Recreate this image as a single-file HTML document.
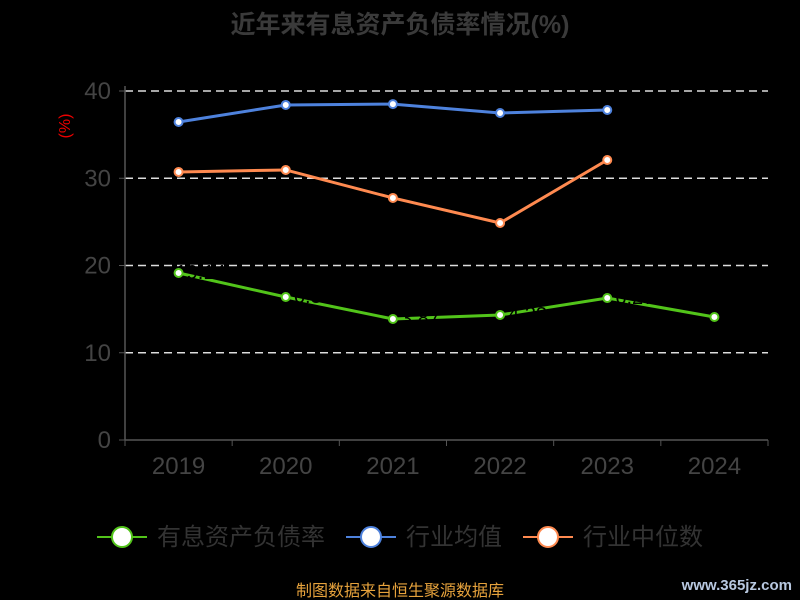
<!DOCTYPE html>
<html><head><meta charset="utf-8"><style>
body{margin:0;background:#000;}
svg{display:block;font-family:"Liberation Sans","Noto Sans CJK SC",sans-serif;}
</style></head><body>
<svg id="c" width="800" height="600">
<text x="400" y="33" text-anchor="middle" font-size="25" font-weight="bold" fill="#3a3a3a">近年来有息资产负债率情况(%)</text>
<text x="70" y="126" transform="rotate(-90 70 126)" text-anchor="middle" font-size="16" fill="#e00">(%)</text>
<g id="grid"></g><g id="series"></g>
<g>
<g><line x1="97" y1="537" x2="147" y2="537" stroke="#52c41a" stroke-width="2"/><circle cx="122" cy="537" r="10" fill="#fff" stroke="#52c41a" stroke-width="2"/><text x="157" y="545" font-size="24" fill="#333">有息资产负债率</text></g>
<g><line x1="346" y1="537" x2="396" y2="537" stroke="#4e82dd" stroke-width="2"/><circle cx="371" cy="537" r="10" fill="#fff" stroke="#4e82dd" stroke-width="2"/><text x="406" y="545" font-size="24" fill="#333">行业均值</text></g>
<g><line x1="523" y1="537" x2="573" y2="537" stroke="#ff8a50" stroke-width="2"/><circle cx="548" cy="537" r="10" fill="#fff" stroke="#ff8a50" stroke-width="2"/><text x="583" y="545" font-size="24" fill="#333">行业中位数</text></g>
</g>
<text x="400" y="596" text-anchor="middle" font-size="16" fill="#e6a23c">制图数据来自恒生聚源数据库</text>
<text x="792" y="590" text-anchor="end" font-size="15" font-weight="bold" fill="#b8c8e0">www.365jz.com</text>
</svg>
<script>
const years=["2019","2020","2021","2022","2023","2024"];
const debtRatio=[19.14,16.39,13.87,14.33,16.27,14.1];
const industryMean=[36.45,38.4,38.5,37.48,37.82,null];
const industryMedian=[30.72,30.95,27.74,24.87,32.09,null];
const yTicks=[0,10,20,30,40];
const NS="http://www.w3.org/2000/svg";
const x0=125,x1=768,yBase=440,yTop=91,yMax=40;
const bw=(x1-x0)/years.length;
const X=i=>x0+bw*(i+0.5);
const Y=v=>yBase-(v/yMax)*(yBase-yTop);
function mk(t,a,p){const e=document.createElementNS(NS,t);for(const k in a)e.setAttribute(k,a[k]);p.appendChild(e);return e;}
const g=document.getElementById('grid');
yTicks.forEach(v=>{
 if(v>0){const l=mk('line',{x1:x0,x2:x1,y1:Y(v),y2:Y(v),stroke:'#ddd','stroke-dasharray':'8,5','stroke-width':1.5},g);
 
 }
 const t=mk('text',{x:x0-14,y:Y(v)+8,'text-anchor':'end','font-size':24,fill:'#444'},g);t.textContent=v;
 
 
 mk('line',{x1:x0-6,x2:x0,y1:Y(v),y2:Y(v),stroke:'#555'},g);
});
const ax=mk('line',{x1:x0,x2:x0,y1:yTop-5,y2:yBase,stroke:'#555','stroke-width':1.5},g);


const xa=mk('line',{x1:x0,x2:x1,y1:yBase,y2:yBase,stroke:'#555','stroke-width':1.5},g);


for(let i=0;i<=years.length;i++)mk('line',{x1:x0+bw*i,x2:x0+bw*i,y1:yBase,y2:yBase+6,stroke:'#555'},g);
years.forEach((y,i)=>{const t=mk('text',{x:X(i),y:474,'text-anchor':'middle','font-size':24,fill:'#444'},g);t.textContent=y;
 
 });
const s=document.getElementById('series');
function series(arr,col,name,labels){
 const pts=arr.map((v,i)=>v==null?null:[X(i),Y(v)]).filter(p=>p);
 const pl=mk('polyline',{points:pts.map(p=>p.join(',')).join(' '),fill:'none',stroke:col,'stroke-width':3},s);
 
 
 arr.forEach((v,i)=>{if(v==null)return;
  if(labels){const t=mk('text',{x:X(i)+22,y:Y(v)+6,'text-anchor':'middle','font-size':20,fill:'#000'},s);t.textContent=v.toFixed(2);}
  const c=mk('circle',{cx:X(i),cy:Y(v),r:4,fill:'#fff',stroke:col,'stroke-width':2},s);
  
  });
}
series(industryMean,'#4e82dd','industry-mean',false);
series(industryMedian,'#ff8a50','industry-median',false);
series(debtRatio,'#52c41a','debt-ratio',true);
</script>
</body></html>
